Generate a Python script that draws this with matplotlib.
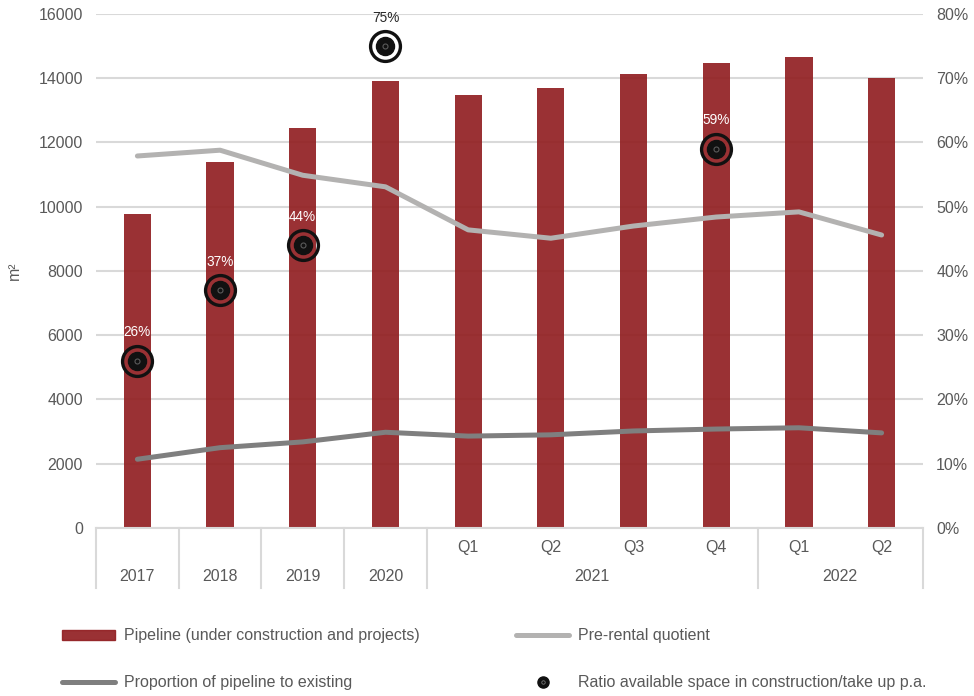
import numpy as np
import matplotlib.pyplot as plt
from matplotlib.lines import Line2D
from matplotlib.patches import Patch
from matplotlib.ticker import FuncFormatter
import matplotlib.transforms as mtransforms

plt.rcParams['font.family'] = ['Liberation Sans', 'DejaVu Sans']

quarters = ["", "", "", "", "Q1", "Q2", "Q3", "Q4", "Q1", "Q2"]
years = ["2017", "2018", "2019", "2020", "2021", "2022"]
year_spans = [(0, 0), (1, 1), (2, 2), (3, 3), (4, 7), (8, 9)]

pipeline = [9780, 11400, 12460, 13920, 13480, 13700, 14130, 14480, 14660, 14000]
pre_rental = [57.9, 58.8, 54.9, 53.1, 46.4, 45.1, 47.0, 48.4, 49.2, 45.6]
proportion = [10.7, 12.5, 13.4, 14.9, 14.3, 14.5, 15.1, 15.4, 15.6, 14.8]
ratio = [26, 37, 44, 75, np.nan, np.nan, np.nan, 59, np.nan, np.nan]

bar_color = '#921f22'
light_line = '#b3b2b1'
dark_line = '#7f7f7f'
text_grey = '#595959'
grid_grey = '#d9d9d9'

fig = plt.figure(figsize=(9.74, 6.96), dpi=100)
ax = fig.add_axes([0.0986, 0.2414, 0.849, 0.7385])
ax2 = ax.twinx()

x = np.arange(len(pipeline))

ax.bar(x, pipeline, width=0.33, color=bar_color, alpha=0.92, zorder=2)
ax.set_ylim(0, 16000)
ax.set_yticks(np.arange(0, 16001, 2000))
ax.set_xlim(-0.5, len(x) - 0.5)
ax.yaxis.grid(True, color=grid_grey, linewidth=1.5, zorder=0)
ax.set_axisbelow(True)
ax.set_ylabel("m²", color=text_grey, fontsize=11.5)
ax.yaxis.set_label_coords(-74 / 827, 0.5)

ax2.set_ylim(0, 80)
ax2.set_yticks(np.arange(0, 81, 10))
ax2.yaxis.set_major_formatter(FuncFormatter(lambda v, p: f"{v:.0f}%"))

for a in (ax, ax2):
    for s in a.spines.values():
        s.set_visible(False)
    a.tick_params(axis='y', length=0, labelsize=11.5, labelcolor=text_grey, pad=9.5)
    a.tick_params(axis='x', length=0, labelbottom=False)

ax.spines['bottom'].set_visible(True)
ax.spines['bottom'].set_color(grid_grey)
ax.spines['bottom'].set_linewidth(1.5)

ax2.plot(x, pre_rental, color=light_line, lw=3.6, solid_capstyle='round',
         solid_joinstyle='round', zorder=3)
ax2.plot(x, proportion, color=dark_line, lw=3.6, solid_capstyle='round',
         solid_joinstyle='round', zorder=3)

# target-style markers for the ratio series
ax2.plot(x, ratio, ls='none', marker='o', ms=21.5, mfc='none', mec='#111111',
         mew=2.4, zorder=4)
ax2.plot(x, ratio, ls='none', marker='o', ms=13, mfc='#111111', mec='#111111',
         zorder=5)
ax2.plot(x, ratio, ls='none', marker='o', ms=3.6, mfc='none', mec='#5a5a5a',
         mew=0.8, zorder=6)
for xi, r in zip(x, ratio):
    if np.isnan(r):
        continue
    col = '#262626' if r > 70 else 'white'
    ax2.annotate(f"{r:.0f}%", (xi, r), xytext=(0, 20.5), textcoords='offset points',
                 ha='center', va='center', fontsize=9.8, color=col, zorder=7)

# two-level category axis below the plot
trans = mtransforms.blended_transform_factory(ax.transData, ax.transAxes)
sep_h = -60 / 514
for b in [-0.5, 0.5, 1.5, 2.5, 3.5, 7.5, 9.5]:
    ax.plot([b, b], [0, sep_h], transform=trans, color=grid_grey, lw=1.5,
            clip_on=False)
for xi, q in zip(x, quarters):
    if q:
        ax.text(xi, -20 / 514, q, transform=trans, ha='center', va='center',
                fontsize=11.5, color=text_grey)
for yr, (a0, a1) in zip(years, year_spans):
    ax.text((a0 + a1) / 2, -49 / 514, yr, transform=trans, ha='center',
            va='center', fontsize=11.5, color=text_grey)

handles = [
    Patch(color=bar_color, alpha=0.92),
    Line2D([], [], color=dark_line, lw=3.6, solid_capstyle='round'),
    Line2D([], [], color=light_line, lw=3.6, solid_capstyle='round'),
    (Line2D([], [], ls='none', marker='o', ms=8, mfc='#111111', mec='#111111'),
     Line2D([], [], ls='none', marker='o', ms=2.5, mfc='none', mec='#777777', mew=0.6)),
]
labels = [
    "Pipeline (under construction and projects)",
    "Proportion of pipeline to existing",
    "Pre-rental quotient",
    "Ratio available space in construction/take up p.a.",
]
fig.legend(handles, labels, ncol=2, loc='upper left',
           bbox_to_anchor=(48 / 974, 1 - 614 / 696), frameon=False,
           fontsize=11.5, labelcolor=text_grey, handlelength=3.3,
           handleheight=0.6, handletextpad=0.55, columnspacing=6.05,
           labelspacing=2.0)

fig.savefig("out.png", dpi=100)
